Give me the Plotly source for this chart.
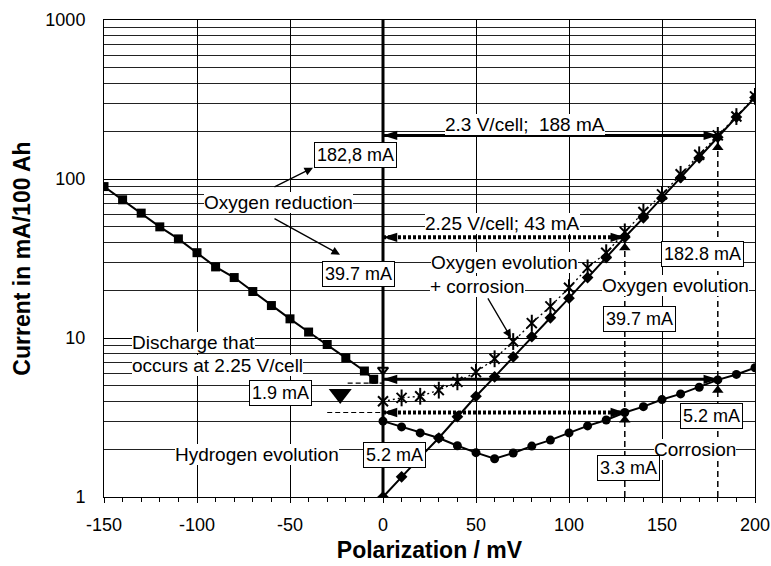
import plotly.graph_objects as go

FONT = "Liberation Sans, Arial, sans-serif"

# ---------------- data ----------------
polarization = [0, 10, 20, 30, 40, 50, 60, 70, 80, 90, 100,
                110, 120, 130, 140, 150, 160, 170, 180, 190, 200]
oxygen_evolution = [1.0, 1.34, 1.78, 2.35, 3.2, 4.3, 5.7, 7.6, 10.2, 13.4, 17.8,
                    24, 32, 43, 57, 76, 102, 136, 183, 245, 325]
oxygen_evolution_corrosion = [4.0, 4.2, 4.3, 4.7, 5.3, 6.1, 7.4, 9.5, 12.4, 15.8, 20.7,
                              27.6, 34.4, 46.5, 62, 80, 107, 142, 188, 247, 331]
corrosion = [3.0, 2.76, 2.53, 2.35, 2.1, 1.9, 1.74, 1.89, 2.09, 2.28, 2.53,
             2.8, 3.05, 3.4, 3.7, 4.1, 4.45, 4.9, 5.45, 5.9, 6.5]

reduction_x = [-150, -140, -130, -120, -110, -100, -90, -80, -70, -60,
               -50, -40, -30, -20, -10, -5]
reduction_y = [89.6, 74, 61, 50, 42, 34.4, 28, 24, 19.6, 16,
               13.2, 10.9, 9.1, 7.5, 6.2, 5.5]

# reading markers
mark_up_x = [130, 180, 130, 180]
mark_up_y = [37, 158, 3.05, 4.7]
discharge_x = [-23]
discharge_y = [4.45]
small_mark_x = [0]
small_mark_y = [6.3]

# double arrows: (level, end polarization)
solid_arrows = [(188, 180), (5.5, 180)]
dotted_arrows = [(43, 130), (3.4, 130)]
# dashed drop lines: (x, top value)
drop_lines = [(130, 40), (180, 175)]
# short dashed lines at the discharge triangle: (start x, level)
discharge_lines = [(-19, 5.2), (-30, 3.4)]

x_ticks = [-150, -100, -50, 0, 50, 100, 150, 200]
y_ticks = [1, 10, 100, 1000]
y_minor = [m * 10 ** k for k in range(3) for m in range(2, 10)]

# ---------------- figure ----------------
fig = go.Figure()

# thick zero line
fig.add_trace(go.Scatter(x=[0, 0], y=[1, 1000], mode="lines",
                         line=dict(color="black", width=3), hoverinfo="skip"))

# dashed drop lines
for xv, top in drop_lines:
    fig.add_trace(go.Scatter(x=[xv, xv], y=[1, top], mode="lines",
                             line=dict(color="black", width=1.5, dash="6px,4px")))
for x0, lv in discharge_lines:
    fig.add_trace(go.Scatter(x=[x0, 0], y=[lv, lv], mode="lines",
                             line=dict(color="black", width=1.2, dash="5px,3px")))

# series
fig.add_trace(go.Scatter(x=reduction_x, y=reduction_y, mode="lines+markers",
                         line=dict(color="black", width=2),
                         marker=dict(symbol="square", size=9, color="black")))
fig.add_trace(go.Scatter(x=polarization, y=corrosion, mode="lines+markers",
                         line=dict(color="black", width=2),
                         marker=dict(symbol="circle", size=9, color="black")))
fig.add_trace(go.Scatter(x=polarization, y=oxygen_evolution_corrosion, mode="lines",
                         line=dict(color="black", width=1.3, dash="2px,3px")))
fig.add_trace(go.Scatter(x=polarization, y=oxygen_evolution, mode="lines+markers",
                         line=dict(color="black", width=2),
                         marker=dict(symbol="diamond", size=9, color="black")))
fig.add_trace(go.Scatter(x=polarization, y=oxygen_evolution_corrosion, mode="markers",
                         marker=dict(symbol="x-thin-open", size=10, color="black",
                                     line=dict(color="black", width=2))))
fig.add_trace(go.Scatter(x=polarization, y=oxygen_evolution_corrosion, mode="markers",
                         marker=dict(symbol="line-ns-open", size=12, color="black",
                                     line=dict(color="black", width=2))))

# arrows
for lv, xe in solid_arrows:
    fig.add_trace(go.Scatter(x=[0, xe], y=[lv, lv], mode="lines+markers",
                             line=dict(color="black", width=3),
                             marker=dict(symbol="arrow", size=15, angle=[-90, 90],
                                         color="black")))
for lv, xe in dotted_arrows:
    fig.add_trace(go.Scatter(x=[0, xe], y=[lv, lv], mode="lines+markers",
                             line=dict(color="black", width=4, dash="3px,2px"),
                             marker=dict(symbol="arrow", size=15, angle=[-90, 90],
                                         color="black")))

# markers
fig.add_trace(go.Scatter(x=mark_up_x, y=mark_up_y, mode="markers",
                         marker=dict(symbol="triangle-up", size=10, color="black")))
fig.add_trace(go.Scatter(x=discharge_x, y=discharge_y, mode="markers",
                         marker=dict(symbol="triangle-down", size=20, color="black")))
fig.add_trace(go.Scatter(x=small_mark_x, y=small_mark_y, mode="markers",
                         marker=dict(symbol="triangle-down-open", size=9, color="black",
                                     line=dict(color="black", width=2))))

# ---------------- labels ----------------
L, R, T, B = 104, 755, 20.5, 497


def P(px, py):
    return (px - L) / (R - L), (B - py) / (B - T)


def lab(text, px, py, box=False, size=19, xanchor="center"):
    x, y = P(px, py)
    return dict(text=text, x=x, y=y, xref="paper", yref="paper", showarrow=False,
                font=dict(size=size, color="black", family=FONT),
                bgcolor="white",
                bordercolor="black" if box else "rgba(0,0,0,0)",
                borderwidth=1 if box else 0, borderpad=2 if box else 0,
                xanchor=xanchor, yanchor="middle")


def arr(tx, ty, sx, sy):
    x, y = P(tx, ty)
    return dict(text="", x=x, y=y, xref="paper", yref="paper", showarrow=True,
                ax=sx - tx, ay=sy - ty, arrowhead=2, arrowsize=1.3, arrowwidth=1.3,
                arrowcolor="black")


annotations = [
    lab("Oxygen reduction", 278, 203),
    lab("182,8 mA", 355, 155, box=True, size=18),
    lab("39.7 mA", 358, 274, box=True, size=18),
    lab("2.3 V/cell;&nbsp; 188 mA", 525, 125),
    lab("2.25 V/cell; 43 mA", 502, 224),
    lab("Oxygen evolution", 504, 263),
    lab("+ corrosion", 477, 287),
    lab("182.8 mA", 702, 254, box=True, size=18),
    lab("Oxygen evolution", 675, 286),
    lab("39.7 mA", 639, 319, box=True, size=18),
    lab("Discharge that", 132, 343, xanchor="left"),
    lab("occurs at 2.25 V/cell", 132, 366, xanchor="left"),
    lab("1.9 mA", 280, 393, box=True, size=18),
    lab("Hydrogen evolution", 257, 455),
    lab("5.2 mA", 394, 455, box=True, size=18),
    lab("5.2 mA", 711, 416, box=True, size=18),
    lab("Corrosion", 695, 450),
    lab("3.3 mA", 628, 468, box=True, size=18),
    arr(313, 168, 273, 188),
    arr(340, 255, 273, 218),
    arr(511, 338, 487, 297),
]

fig.update_layout(
    width=771, height=566,
    margin=dict(l=104, r=16, t=20, b=69, autoexpand=False),
    paper_bgcolor="white", plot_bgcolor="white",
    showlegend=False,
    font=dict(family=FONT, color="black", size=18),
    annotations=annotations,
    xaxis=dict(
        range=[-150, 200], tickvals=x_ticks, ticktext=[str(v) for v in x_ticks],
        showgrid=True, gridcolor="black", gridwidth=1, zeroline=False,
        showline=True, linecolor="black", linewidth=1, mirror=True, automargin=False,
        ticks="outside", ticklen=5, tickcolor="black", ticklabelstandoff=6,
        minor=dict(dtick=10, ticks="outside", ticklen=4, tickcolor="black", showgrid=False),
        tickfont=dict(size=18, family=FONT, color="black"),
        title=dict(text="<b>Polarization / mV</b>", standoff=8,
                   font=dict(size=23, family=FONT, color="black")),
    ),
    yaxis=dict(
        type="log", range=[0, 3], tickvals=y_ticks, ticktext=[str(v) for v in y_ticks],
        showgrid=True, gridcolor="black", gridwidth=1, zeroline=False,
        showline=True, linecolor="black", linewidth=1, mirror=True, automargin=False,
        ticks="", ticklabelstandoff=14,
        minor=dict(tickvals=y_minor, showgrid=True, gridcolor="#222", gridwidth=1, ticks=""),
        tickfont=dict(size=18, family=FONT, color="black"),
        title=dict(text="<b>Current in mA/100 Ah</b>", standoff=8,
                   font=dict(size=23, family=FONT, color="black")),
    ),
)

fig.write_html("out.html", config={"displayModeBar": False},
               post_script="document.body.style.margin='0';document.body.style.overflow='hidden';")
